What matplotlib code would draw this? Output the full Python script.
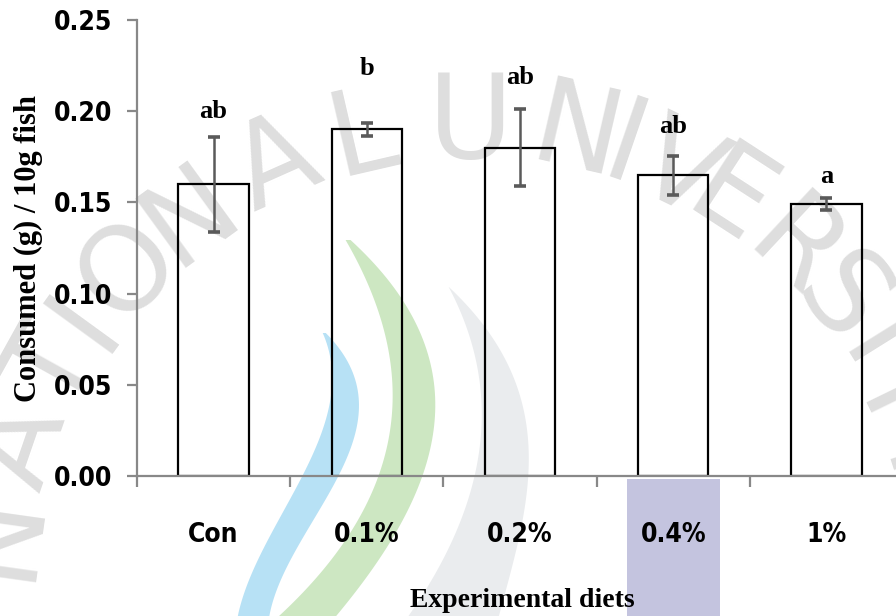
import matplotlib
matplotlib.use("Agg")
import matplotlib.pyplot as plt
from matplotlib.patches import Polygon, Rectangle
from matplotlib import font_manager
import numpy as np

# feed consumption per diet group
diets = ["Con", "0.1%", "0.2%", "0.4%", "1%"]
consumed = [0.160, 0.190, 0.180, 0.165, 0.149]
sem = [0.026, 0.0035, 0.021, 0.0107, 0.0032]
groups = ["ab", "b", "ab", "ab", "a"]
y_ticks = [0.00, 0.05, 0.10, 0.15, 0.20, 0.25]

# gap (points) between error-bar cap and group letter
letter_gap = [13.5, 34.5, 18.5, 16, 11]

W, H = 896, 616
SERIF = ["Liberation Serif", "DejaVu Serif"]

narrow = font_manager.FontProperties(family="DejaVu Sans", weight="bold",
                                     stretch="condensed", size=19)

fig = plt.figure(figsize=(W / 100, H / 100), dpi=100)
fig.patch.set_facecolor("white")


def fx(px):
    return px / W


def fy(py):
    return 1 - py / H


# background seal: coloured swooshes, block and arched lettering
def swoosh(ys, left, right, color):
    ys = np.asarray(ys, float)
    yy = np.linspace(ys[0], ys[-1], 80)
    xl = np.polyval(np.polyfit(ys, left, 3), yy)
    xr = np.polyval(np.polyfit(ys, right, 3), yy)
    pts = [(fx(a), fy(b)) for a, b in zip(xl, yy)]
    pts += [(fx(a), fy(b)) for a, b in zip(xr[::-1], yy[::-1])]
    fig.add_artist(Polygon(pts, closed=True, facecolor=color, edgecolor="none",
                           transform=fig.transFigure, zorder=-2))


swoosh([333, 350, 410, 483, 550, 616], [322, 330, 327, 300, 262, 238],
       [322, 347, 353, 340, 293, 270], "#b7e1f5")
swoosh([240, 250, 317, 383, 450, 517, 583, 616],
       [347, 350, 380, 390, 390, 360, 307, 282],
       [347, 367, 407, 437, 432, 403, 360, 338], "#cde7c2")
swoosh([287, 350, 417, 483, 550, 616], [450, 470, 483, 477, 443, 410],
       [450, 497, 527, 530, 513, 500], "#eaecee")
fig.add_artist(Rectangle((fx(627), fy(616)), fx(720) - fx(627), fy(479) - fy(616),
                         facecolor="#c4c4df", edgecolor="none",
                         transform=fig.transFigure, zorder=-2))

seal = "NATIONALUNIVERSITY"
angles = [-82, -71, -61, -54, -46, -36, -24, -13,
          0, 13, 19, 26, 33, 43, 51, 58, 64, 72]
cx, cy, r = 470, 600, 475
for ch, a in zip(seal, angles):
    t = np.radians(a)
    fig.text(fx(cx + r * np.sin(t)), fy(cy - r * np.cos(t)), ch,
             fontsize=84, color="#dedede", rotation=-a, rotation_mode="anchor",
             ha="center", va="center", family="DejaVu Sans", zorder=-1)

# axes spans five category slots, right edge runs off the canvas
ax = fig.add_axes([fx(137), fy(476), 766 / W, 456 / H])
ax.patch.set_visible(False)

x = np.arange(len(diets))
ax.bar(x, consumed, width=0.46, facecolor="none", edgecolor="black",
       linewidth=1.6, zorder=2)
eb = ax.errorbar(x, consumed, yerr=sem, fmt="none", ecolor="#5a5a5a",
                 elinewidth=1.8, capsize=4.5, capthick=2.6, zorder=3)
for cap in eb[1]:
    cap.set_color("black")
for i in range(len(diets)):
    ax.annotate(groups[i], (x[i], consumed[i] + sem[i]),
                xytext=(0, letter_gap[i]), textcoords="offset points",
                ha="center", va="baseline", fontsize=19, fontweight="bold",
                family=SERIF)

ax.set_xlim(-0.5, len(diets) - 0.5)
ax.set_ylim(0, 0.25)
ax.set_yticks(y_ticks)
ax.set_yticklabels([f"{v:.2f}" for v in y_ticks], fontproperties=narrow)
ax.set_xticks(np.arange(len(diets) + 1) - 0.5)
ax.set_xticklabels([])
ax.set_xticks(x, minor=True)
ax.set_xticklabels(diets, minor=True, fontproperties=narrow)

for side in ["top", "right"]:
    ax.spines[side].set_visible(False)
for side in ["left", "bottom"]:
    ax.spines[side].set_color("#888888")
    ax.spines[side].set_linewidth(1.6)

ax.tick_params(axis="y", length=7, width=1.6, color="#888888", pad=11)
ax.tick_params(axis="x", which="major", length=8, width=1.6, color="#888888")
ax.tick_params(axis="x", which="minor", length=0, pad=33)

ax.set_ylabel("Consumed (g) / 10g fish", fontsize=22, fontweight="bold",
              family=SERIF)
ax.yaxis.set_label_coords(-0.142, 0.5)
ax.yaxis.label.set_va("center")
ax.set_xlabel("Experimental diets", fontsize=20, fontweight="bold",
              family=SERIF)
ax.xaxis.set_label_coords(0.503, -0.272)
ax.xaxis.label.set_va("center")

fig.savefig("out.png", dpi=100)
